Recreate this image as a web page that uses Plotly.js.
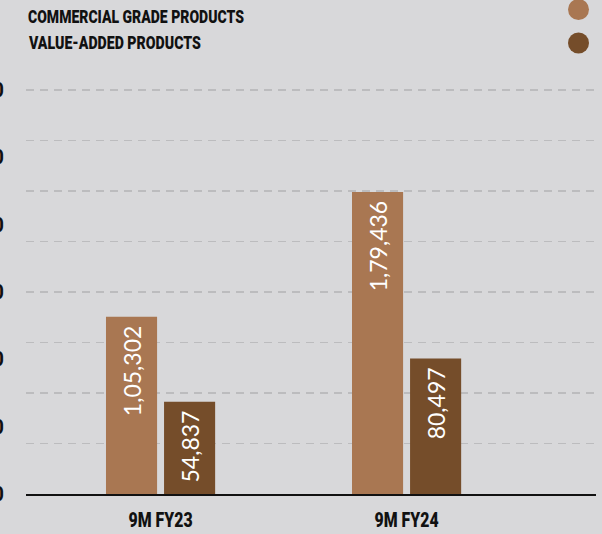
<!DOCTYPE html>
<html>
<head>
<meta charset="utf-8">
<script src="https://cdn.plot.ly/plotly-3.0.1.min.js"></script>
<style>html,body{margin:0;padding:0;background:#d8d8da;}#chart{width:602px;height:534px;}</style>
</head>
<body>
<div id="chart"></div>
<script>
const categories = ["9M FY23", "9M FY24"];
const seriesNames = ["COMMERCIAL GRADE PRODUCTS", "VALUE-ADDED PRODUCTS"];
const commercialGrade = [105302, 179436];
const valueAdded = [54837, 80497];
const yTickValues = [0, 40000, 80000, 120000, 160000, 200000, 240000];
const yTickLabels = ["0", "40,000", "80,000", "1,20,000", "1,60,000", "2,00,000", "2,40,000"];
const colors = ["#a97752", "#754d2a"];

function fmtIN(n) {
  const s = String(Math.round(n));
  if (s.length <= 3) return s;
  const last3 = s.slice(-3);
  let rest = s.slice(0, -3);
  const parts = [];
  while (rest.length > 2) { parts.unshift(rest.slice(-2)); rest = rest.slice(0, -2); }
  if (rest.length) parts.unshift(rest);
  return parts.join(",") + "," + last3;
}

const headFamily = "Roboto, 'DejaVu Sans', sans-serif";
const textFont = {family: "Lato, 'Open Sans', sans-serif", size: 23, color: "#ffffff", weight: 400};
const series = [commercialGrade, valueAdded];
const traces = series.map((vals, i) => ({
  type: "bar",
  name: seriesNames[i],
  x: categories,
  y: vals,
  marker: {color: colors[i]},
  text: vals.map(v => fmtIN(v) + "\u00a0"),
  textposition: "inside",
  insidetextanchor: "end",
  textangle: -90,
  constraintext: "none",
  textfont: textFont,
  hoverinfo: "skip",
  yaxis: "y"
}));
traces.push({type: "scatter", x: [categories[0]], y: [0], yaxis: "y2", mode: "none", showlegend: false, hoverinfo: "skip"});

const headFont = {family: headFamily, size: 18, color: "#111111", weight: 900};
const yTop = 241200;

const layout = {
  width: 602, height: 534,
  paper_bgcolor: "#d8d8da",
  plot_bgcolor: "#d8d8da",
  margin: {l: 26, r: 6, t: 88, b: 40, pad: 0},
  showlegend: false,
  hovermode: false,
  barmode: "group",
  bargap: 0.528,
  bargroupgap: 0.12,
  xaxis: {
    type: "category",
    range: [-0.547, 1.770],
    showgrid: false,
    zeroline: false,
    showline: true,
    linecolor: "#111111",
    linewidth: 2,
    ticks: "",
    ticklabelstandoff: 7,
    tickfont: {family: headFamily, size: 20, color: "#111111", weight: 900}
  },
  yaxis: {
    range: [0, yTop],
    tickvals: yTickValues,
    ticktext: yTickLabels,
    showgrid: false,
    zeroline: false,
    showline: false,
    ticks: "",
    ticklabelstandoff: 21,
    tickfont: {family: headFamily, size: 20, color: "#111111", weight: 700}
  },
  yaxis2: {
    overlaying: "y",
    range: [0, yTop],
    dtick: 30000,
    tick0: 0,
    showgrid: true,
    gridcolor: "#bcbcbe",
    gridwidth: 1.6,
    griddash: "8px,6px",
    showticklabels: false,
    zeroline: false,
    showline: false,
    ticks: "",
    layer: "below traces"
  },
  annotations: seriesNames.map((n, i) => ({
    text: n, xref: "paper", yref: "paper", x: 0, y: i === 0 ? 1.1773 : 1.1133,
    xanchor: "left", yanchor: "middle", align: "left", showarrow: false, font: headFont
  })),
  shapes: colors.map((c, i) => ({
    type: "circle", xref: "paper", yref: "paper",
    xsizemode: "pixel", ysizemode: "pixel",
    xanchor: 0.9693, yanchor: i === 0 ? 1.1933 : 1.1108,
    x0: -10.5, x1: 10.5, y0: -10.5, y1: 10.5,
    fillcolor: c, line: {width: 0}
  }))
};

// widths of the condensed display type measured on the reference
const legendWidths = [216, 172];
const xLabelWidth = 64;

Plotly.newPlot("chart", traces, layout, {staticPlot: true, displayModeBar: false}).then(gd => {
  const ann = gd.querySelectorAll(".annotation-text");
  ann.forEach((t, i) => {
    t.setAttribute("textLength", legendWidths[i]);
    t.setAttribute("lengthAdjust", "spacingAndGlyphs");
  });
  gd.querySelectorAll(".xtick text").forEach(t => {
    t.setAttribute("textLength", xLabelWidth);
    t.setAttribute("lengthAdjust", "spacingAndGlyphs");
  });
});
</script>
</body>
</html>
